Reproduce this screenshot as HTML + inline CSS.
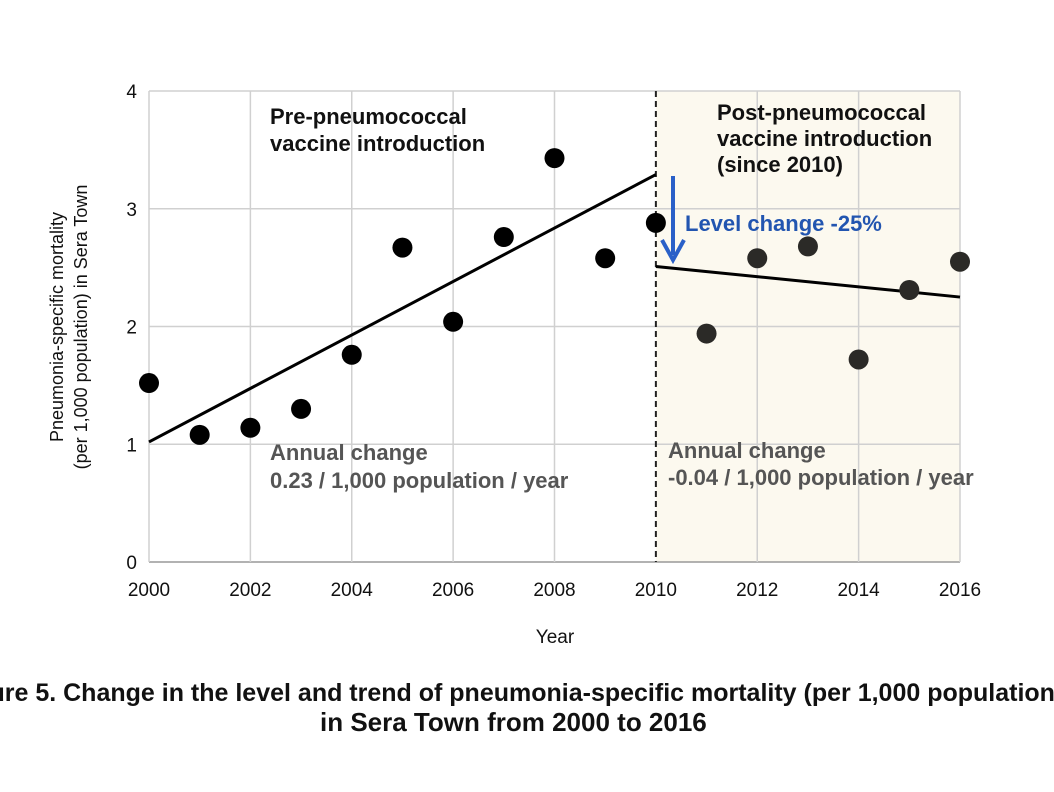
<!DOCTYPE html>
<html><head><meta charset="utf-8"><style>
html,body{margin:0;padding:0;background:#fff;}
svg{display:block;font-family:"Liberation Sans",Arial,sans-serif;}
</style></head><body>
<svg id="chart" width="1054" height="792" viewBox="0 0 1054 792">
<rect x="656" y="91" width="304" height="471" fill="#fcf9ef"/>
<g id="grid"></g>
<g id="axes"></g>
<g id="marks"></g>
<text x="270" y="124" font-size="22" font-weight="bold" fill="#111"><tspan x="270">Pre-pneumococcal</tspan><tspan x="270" dy="27">vaccine introduction</tspan></text>
<text x="717" y="120" font-size="22" font-weight="bold" fill="#111"><tspan x="717">Post-pneumococcal</tspan><tspan x="717" dy="26">vaccine introduction</tspan><tspan x="717" dy="26">(since 2010)</tspan></text>
<text x="685" y="231" font-size="22" font-weight="bold" fill="#2255b0">Level change -25%</text>
<line x1="673" y1="176" x2="673" y2="255" stroke="#2a60c8" stroke-width="4"/>
<polyline points="662,240 673,260 684,240" fill="none" stroke="#2a60c8" stroke-width="4"/>
<text x="270" y="460" font-size="22" font-weight="bold" fill="#555"><tspan x="270">Annual change</tspan><tspan x="270" dy="28">0.23 / 1,000 population / year</tspan></text>
<text x="668" y="458" font-size="22" font-weight="bold" fill="#555"><tspan x="668">Annual change</tspan><tspan x="668" dy="27">-0.04 / 1,000 population / year</tspan></text>
<text x="555" y="643" font-size="19" text-anchor="middle" fill="#111">Year</text>
<text transform="translate(63,327) rotate(-90)" font-size="18" text-anchor="middle" fill="#111"><tspan x="0" dy="0">Pneumonia-specific mortality</tspan><tspan x="0" dy="24">(per 1,000 population) in Sera Town</tspan></text>
<text x="-48" y="701" font-size="25" font-weight="bold" fill="#111">Figure 5. Change in the level and trend of pneumonia-specific mortality (per 1,000 population)</text>
<text x="320" y="731" font-size="26" font-weight="bold" fill="#111">in Sera Town from 2000 to 2016</text>
</svg>
<script>
const years=[2000,2001,2002,2003,2004,2005,2006,2007,2008,2009,2010,2011,2012,2013,2014,2015,2016];
const mortality=[1.52,1.08,1.14,1.30,1.76,2.67,2.04,2.76,3.43,2.58,2.88,1.94,2.58,2.68,1.72,2.31,2.55];
const xTicks=[2000,2002,2004,2006,2008,2010,2012,2014,2016];
const yTicks=[0,1,2,3,4];
const preTrend=[[2000,1.02],[2010,3.29]];
const postTrend=[[2010,2.51],[2016,2.25]];
const interventionYear=2010;
const NS="http://www.w3.org/2000/svg";
const X=v=>149+(v-2000)*(960-149)/16;
const Y=v=>562-v*(562-91)/4;
function mk(tag,attrs,parent){const e=document.createElementNS(NS,tag);for(const k in attrs)e.setAttribute(k,attrs[k]);document.getElementById(parent).appendChild(e);return e;}
yTicks.forEach(t=>{
 const l=mk('line',{x1:X(2000),x2:X(2016),y1:Y(t),y2:Y(t),stroke:t===0?'#999':'#d0d0d0','stroke-width':1.5},'grid');
 
 
 const tx=mk('text',{x:X(2000)-12,y:Y(t)+7,'font-size':19,'text-anchor':'end',fill:'#111'},'axes');
 tx.textContent=t;
 
 
});
xTicks.forEach(t=>{
 if(t!==interventionYear){
 const l=mk('line',{x1:X(t),x2:X(t),y1:Y(0),y2:Y(4),stroke:'#d0d0d0','stroke-width':1.5},'grid');
 
 }
 const tx=mk('text',{x:X(t),y:Y(0)+34,'font-size':19,'text-anchor':'middle',fill:'#111'},'axes');
 tx.textContent=t;
 
 
});
const iv=mk('line',{x1:X(interventionYear),x2:X(interventionYear),y1:Y(4),y2:Y(0),stroke:'#222','stroke-width':2,'stroke-dasharray':'6,4'},'marks');


[[preTrend,'pre-trend-line'],[postTrend,'post-trend-line']].forEach(([tr,n])=>{
 const l=mk('line',{x1:X(tr[0][0]),y1:Y(tr[0][1]),x2:X(tr[1][0]),y2:Y(tr[1][1]),stroke:'#000','stroke-width':3},'marks');
 
 
});
years.forEach((yr,i)=>{
 const c=mk('circle',{cx:X(yr),cy:Y(mortality[i]),r:10,fill:yr>interventionYear?'#2b2a27':'#000'},'marks');
 
 
});
</script>
</body></html>
